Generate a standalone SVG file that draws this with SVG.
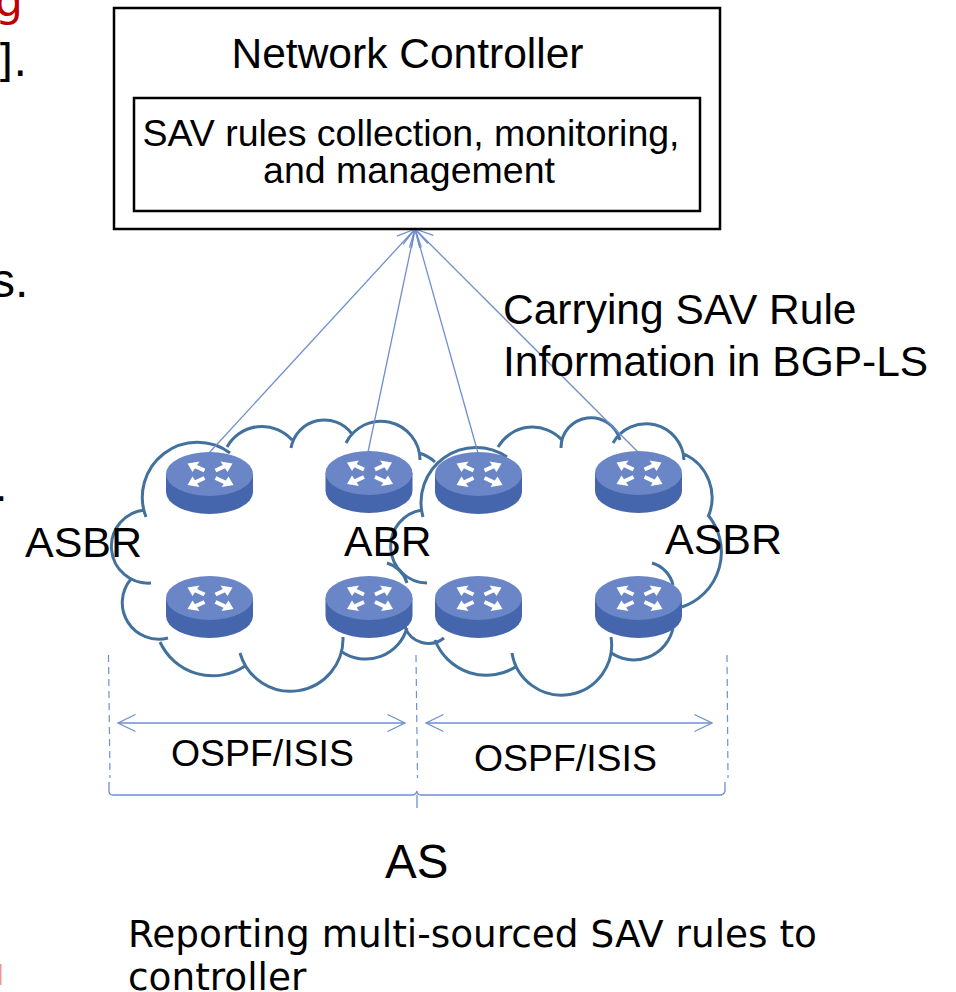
<svg xmlns="http://www.w3.org/2000/svg" width="956" height="992" viewBox="0 0 956 992">
<style>
text{font-family:"Liberation Sans",Arial,sans-serif;fill:#000}
.d{font-family:"DejaVu Sans",sans-serif}
.box{fill:none;stroke:#000;stroke-width:2.5}
.cloud{fill:none;stroke:#41719c;stroke-width:3}
.link{fill:none;stroke:#6f8fd0;stroke-width:1.3}
.dash{fill:none;stroke:#6f8fd0;stroke-width:1.2;stroke-dasharray:7 5}
</style>
<defs>
<marker id="open" viewBox="-20 -10 22 20" refX="0" refY="0" markerUnits="userSpaceOnUse" markerWidth="22" markerHeight="20" orient="auto-start-reverse"><path d="M-17.500 -8.500L0 0L-17.500 8.500" fill="none" stroke="#6f8fd0" stroke-width="1.300"/></marker>
<g id="router">
<path d="M-43.500 0V18A43.500 22 0 0 0 43.500 18V0Z" fill="#4565ad"/>
<ellipse rx="43.500" ry="22" fill="#6a86c6"/>
<g stroke="#fff" stroke-width="4" fill="#fff">
<path d="M-5 -3.500L-16 -8.500M6 -3.500L17 -8.500M-5 4L-16 9M6 4L17 9" fill="none"/>
<path d="M-22 -10.500L-10 -12.500L-17 -2Z" stroke="none"/>
<path d="M23 -10.500L11 -12.500L18 -2Z" stroke="none"/>
<path d="M-22 11L-10 13L-17 2.500Z" stroke="none"/>
<path d="M24 11L12 13L19 2.500Z" stroke="none"/>
</g>
</g>
</defs>

<g id="margin-text">
<text x="-5" y="16" font-size="44" style="fill:#c00000" class="d">g</text>
<text x="-4" y="76" font-size="44" class="d">].</text>
<text x="-9" y="297" font-size="48">s.</text>
<text x="-5" y="501" font-size="44">.</text>
<rect x="0" y="964" width="1.500" height="21" fill="#c00000" opacity=".4"/>
</g>

<g id="cloud-left">
<path class="cloud" d="M146 517A55 55 0 0 1 230 453M227 447A40 40 0 0 1 292 440M291 448A34 34 0 0 1 352 434M346 443A39 39 0 0 1 420 460M419 453A40 40 0 0 1 435 462M387 563A30 30 0 0 1 407 583M407 628A43 43 0 0 1 342 652M343 637A52.500 52.500 0 0 1 240 653M245 666A58 58 0 0 1 160 642M168 638A36.500 36.500 0 0 1 131 579M151 583A36.600 36.600 0 0 1 145 510"/>
</g>
<g id="cloud-right">
<path class="cloud" d="M423 517A55 55 0 0 1 507 457M498 447A40 40 0 0 1 562 440M561 448A30 30 0 0 1 620 440M613 443A38 38 0 0 1 684 460M684 454A48 48 0 0 1 708 517M708 515A58 58 0 0 1 682 607M652 563A30 30 0 0 1 673 585M673 628A40 40 0 0 1 610 652M611 637A50 50 0 0 1 512 653M517 666A55 55 0 0 1 435 640M444 638A25 25 0 0 1 405 627M427 583A36.700 36.700 0 0 1 422 510"/>
</g>

<g id="connectors">
<path class="link" marker-end="url(#open)" d="M209 453L415 229"/>
<path class="link" marker-end="url(#open)" d="M368 452L415 229"/>
<path class="link" marker-end="url(#open)" d="M478 453L415 229"/>
<path class="link" marker-end="url(#open)" d="M638 452L415 229"/>
<path class="link" marker-start="url(#open)" marker-end="url(#open)" d="M118 723H405"/>
<path class="link" marker-start="url(#open)" marker-end="url(#open)" d="M426 723H712"/>
<path class="dash" d="M108.500 655L110 778"/>
<path class="dash" d="M416 655L417.500 778"/>
<path class="dash" d="M727 655L728 778"/>
<path class="link" d="M109 782V791Q109 795 113 795H412Q416 795 417 791Q417 795 421 795H720Q724 795 725 791V782M417 795V808"/>
</g>

<g id="router-1" transform="translate(209.500,474)"><use href="#router"/></g>
<g id="router-2" transform="translate(369,473)"><use href="#router"/></g>
<g id="router-3" transform="translate(478.500,474)"><use href="#router"/></g>
<g id="router-4" transform="translate(638.500,473)"><use href="#router"/></g>
<g id="router-5" transform="translate(209.500,598)"><use href="#router"/></g>
<g id="router-6" transform="translate(369,598)"><use href="#router"/></g>
<g id="router-7" transform="translate(478.500,598)"><use href="#router"/></g>
<g id="router-8" transform="translate(638.500,598)"><use href="#router"/></g>

<g id="network-controller">
<rect class="box" x="114" y="8" width="606" height="221"/>
<text x="407.500" y="68" font-size="42.500" text-anchor="middle">Network Controller</text>
</g>
<g id="sav-rules">
<rect class="box" x="134" y="98" width="566" height="113"/>
<text x="411" y="146" font-size="37.500" text-anchor="middle">SAV rules collection, monitoring,</text>
<text x="409" y="183" font-size="37.500" text-anchor="middle">and management</text>
</g>

<g id="labels">
<text x="503" y="324" font-size="42.500">Carrying SAV Rule</text>
<text x="503" y="376" font-size="42.500">Information in BGP-LS</text>
<text x="25" y="557" font-size="43">ASBR</text>
<text x="344" y="556" font-size="42.600">ABR</text>
<text x="665" y="554" font-size="43">ASBR</text>
<text x="171" y="766" font-size="37.400">OSPF/ISIS</text>
<text x="474" y="771" font-size="37.400">OSPF/ISIS</text>
<text x="385" y="878" font-size="47.500">AS</text>
<text class="d" x="128" y="947" font-size="37.400">Reporting multi-sourced SAV rules to</text>
<text class="d" x="128" y="990" font-size="37.400">controller</text>
</g>
</svg>
